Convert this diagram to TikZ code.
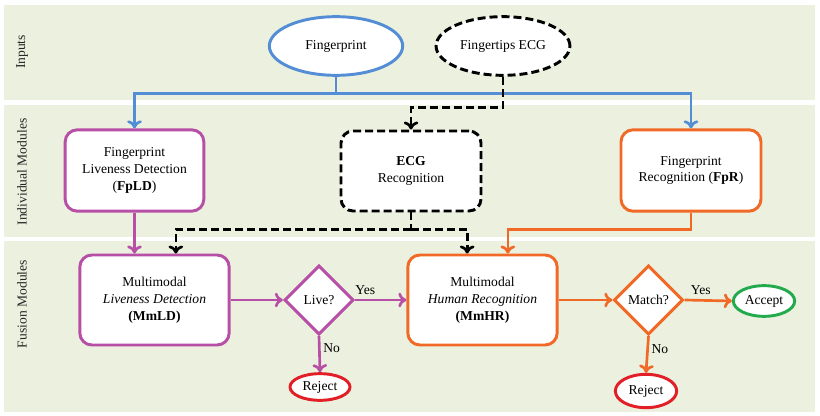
\documentclass[tikz,border=0pt]{standalone}
\usepackage{fontspec}
\setmainfont{Liberation Serif}
\usepackage{tikz}
\usetikzlibrary{calc,arrows.meta,shapes.geometric}

\definecolor{bandgreen}{RGB}{235,241,222}
\definecolor{fpblue}{RGB}{83,141,213}
\definecolor{lvmag}{RGB}{183,79,167}
\definecolor{recorange}{RGB}{241,105,38}
\definecolor{rejred}{RGB}{226,30,38}
\definecolor{accgreen}{RGB}{34,170,76}

\begin{document}
\begin{tikzpicture}[x=0.75pt,y=-0.75pt,
    every node/.style={font=\fontsize{10.2}{12.7}\selectfont},
    lane/.style={fill=bandgreen,draw=none},
    lanelabel/.style={rotate=90,text=black!85},
    module/.style={draw,rounded corners=9pt,fill=white,line width=2.2pt,align=center,minimum width=105pt,minimum height=61pt},
    source/.style={draw,ellipse,fill=white,line width=2.2pt,minimum width=100pt,minimum height=44pt},
    decision/.style={draw,diamond,fill=white,line width=2.2pt,minimum width=52pt,minimum height=52pt,inner sep=1pt},
    outcome/.style={draw,ellipse,fill=white,line width=2.2pt,inner sep=0pt,minimum width=46pt,minimum height=22pt},
    answer/.style={text=black},
    link/.style={line width=2pt,-{To[length=6pt,width=11pt]}},
    dashlink/.style={link,dash pattern=on 6pt off 3pt}]
      \useasboundingbox (0,0) rectangle (820,416);
      \fill[lane] (4,5) rectangle (815,100);
      \fill[lane] (4,105) rectangle (815,237);
      \fill[lane] (4,241) rectangle (815,412);
      \node[lanelabel] (inlab) at (22,52) {Inputs};
      \node[lanelabel] (indlab) at (22,172) {Individual Modules};
      \node[lanelabel] (fuslab) at (22,304) {Fusion Modules};

      \node[source,draw=fpblue] (fp) at (336,46) {Fingerprint};
      \node[source,dash pattern=on 6pt off 3pt] (ecgin) at (503,46) {Fingertips ECG};

      \node[module,draw=lvmag,minimum width=104pt] (fpld) at (134.5,170.5) {Fingerprint\\Liveness Detection\\(\textbf{FpLD})};
      \node[module,dash pattern=on 6pt off 3pt,minimum height=60pt] (ecg) at (411,171) {\textbf{ECG}\\Recognition};
      \node[module,draw=recorange] (fpr) at (691,170.5) {Fingerprint\\Recognition (\textbf{FpR})};

      \node[module,draw=lvmag,minimum width=112pt,minimum height=67.5pt] (mmld) at (154.5,300) {Multimodal\\\textit{Liveness Detection}\\\textbf{(MmLD)}};
      \node[module,draw=recorange,minimum width=112pt,minimum height=67.5pt] (mmhr) at (482.5,300) {Multimodal\\\textit{Human Recognition}\\\textbf{(MmHR)}};
      \node[decision,draw=lvmag] (live) at (319,300) {Live?};
      \node[decision,draw=recorange] (match) at (648.5,300) {Match?};
      \node[outcome,draw=rejred,minimum width=45pt,minimum height=20pt] (rej1) at (320,387) {Reject};
      \node[outcome,draw=accgreen,minimum height=23pt] (accept) at (764,301) {Accept};
      \node[outcome,draw=rejred,minimum height=25pt] (rej2) at (646,391) {Reject};

      \coordinate (fpturn) at ($(fp.south)+(0,17)$);
      \draw[link,-,fpblue] (fp.south) -- (fpturn);
      \draw[link,fpblue] (fpturn) -| (fpld.north);
      \draw[link,fpblue] (fpturn) -| (fpr.north);

      \coordinate (ecgturn) at ($(ecgin.south)+(0,31)$);
      \draw[dashlink] (ecgin.south) -- (ecgturn) -| (ecg.north);

      \draw[link,lvmag] (fpld.south) -- (fpld.south |- mmld.north);
      \coordinate (ecgsplit) at ($(ecg.south)+(0,17)$);
      \draw[dashlink,-] (ecg.south) -- (ecgsplit);
      \draw[dashlink] (ecgsplit) -| ([xshift=16pt]mmld.north);
      \draw[dashlink] (ecgsplit) -| ([xshift=-11.5pt]mmhr.north);
      \coordinate (fprturn) at ($(fpr.south)+(0,17)$);
      \draw[link,recorange] (fpr.south) -- (fprturn) -| ([xshift=19pt]mmhr.north);

      \draw[link,lvmag] (mmld.east) -- (live.west);
      \draw[link,lvmag] (live.east) -- node[answer,above,pos=0.2] (yes1) {Yes} (mmhr.west);
      \draw[link,lvmag] (live.south) -- node[answer,right,pos=0.34,inner sep=2pt] (no1) {No} (rej1.north);
      \draw[link,recorange] (mmhr.east) -- (match.west);
      \draw[link,recorange] (match.east) -- node[answer,above,pos=0.34] (yes2) {Yes} (accept.west);
      \draw[link,recorange] (match.south) -- node[answer,right,pos=0.34,inner sep=2pt] (no2) {No} (rej2.north);
    \end{tikzpicture}
\end{document}
